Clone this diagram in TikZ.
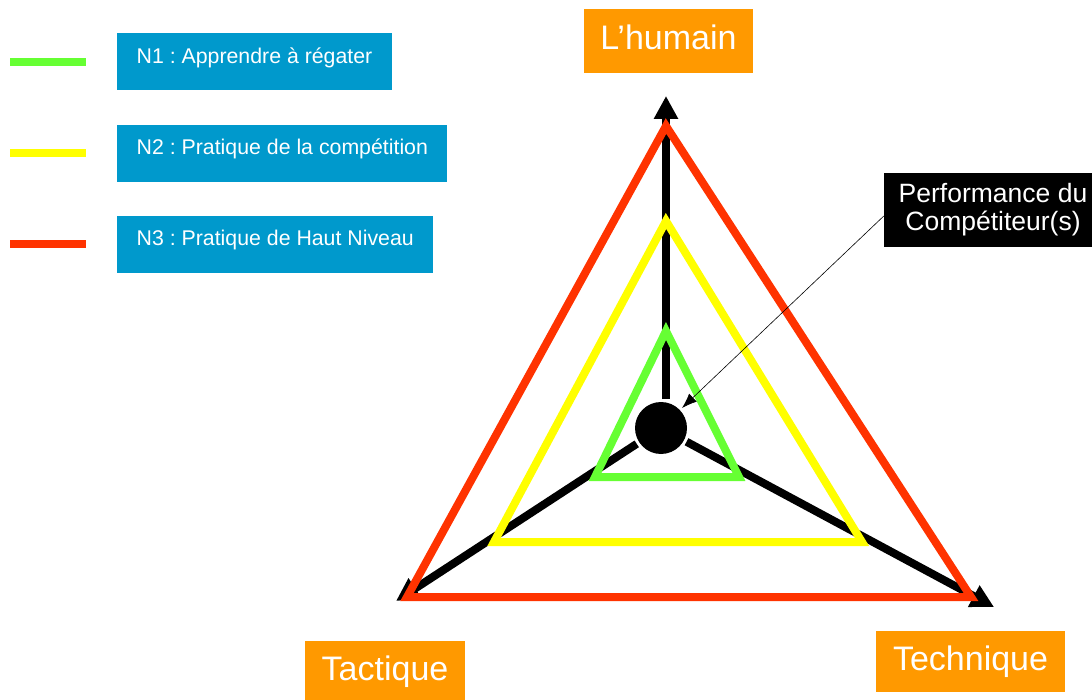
\documentclass[tikz,border=0pt]{standalone}
\usepackage{fontspec}
\setmainfont{Liberation Sans}
\usetikzlibrary{arrows.meta,positioning}
\definecolor{nOne}{RGB}{102,255,51}
\definecolor{nTwo}{RGB}{255,255,0}
\definecolor{nThree}{RGB}{255,51,0}
\definecolor{legendblue}{RGB}{0,153,204}
\definecolor{axisorange}{RGB}{255,153,0}

\begin{document}
\begin{tikzpicture}[
x=1pt,y=-1pt,
line join=miter,
level/.style={line width=8pt},
axis/.style={line width=8pt,-{Triangle[length=23pt,width=23pt]}},
pointer/.style={line width=0.6pt,-{Latex[length=15pt,width=11pt]}},
legend/.style={rectangle,fill=legendblue,text=white,anchor=north west,
  font=\fontsize{21.3pt}{25pt}\selectfont\frenchspacing,inner xsep=19.5pt,inner ysep=0pt,
  text height=30pt,text depth=27pt},
axisname/.style={rectangle,fill=axisorange,text=white,
  font=\fontsize{34pt}{40pt}\selectfont,inner sep=0pt,
  text height=25pt,text depth=8pt},
note/.style={rectangle,fill=black,text=white,align=center,
  font=\fontsize{26.5pt}{28pt}\selectfont,inner sep=0pt},
player/.style={circle,fill=black,minimum size=52pt,inner sep=0pt,outer sep=3pt},
node distance=34pt
]
\useasboundingbox (0,0) rectangle (1092,700);

% legende
\node [legend] (n1) at (117,33) {N1 : Apprendre à régater};
\node [legend,below=of n1.south west,anchor=north west] (n2) {N2 : Pratique de la compétition};
\node [legend,below=of n2.south west,anchor=north west] (n3) {N3 : Pratique de Haut Niveau};
\draw [level,nOne]   ([xshift=-107pt]n1.west) -- ([xshift=-31pt]n1.west);
\draw [level,nTwo]   ([xshift=-107pt]n2.west) -- ([xshift=-31pt]n2.west);
\draw [level,nThree] ([xshift=-107pt]n3.west) -- ([xshift=-31pt]n3.west);

% les trois axes
\node [axisname,minimum width=169pt,minimum height=64pt] (humain) at (668.5,41) {L’humain};
\node [axisname,minimum width=160pt,minimum height=62pt] (tactique) at (385,672) {Tactique};
\node [axisname,minimum width=189pt,minimum height=61pt] (technique) at (970.5,661.5) {Technique};
\node [note,minimum width=218pt,minimum height=74pt] (perf) at (993,210) {Performance du\\Compétiteur(s)};

\node [player] (comp) at (661,428) {};
\coordinate (top tip)   at (666,96);
\coordinate (left tip)  at (396,601);
\coordinate (right tip) at (994,607);
\draw [axis] (top tip |- comp.north) -- (top tip);
\draw [axis] (comp) -- (left tip);
\draw [axis] (comp) -- (right tip);

% niveaux
\draw [level,nThree] (666,126) -- (407,597) -- (971,597) -- cycle;
\draw [level,nTwo]   (666,221) -- (494,542) -- (862,542) -- cycle;
\draw [level,nOne]   (666,331) -- (595,477) -- (739,477) -- cycle;

\draw [pointer] ([yshift=-6pt]perf.west) -- (comp);
\end{tikzpicture}
\end{document}
